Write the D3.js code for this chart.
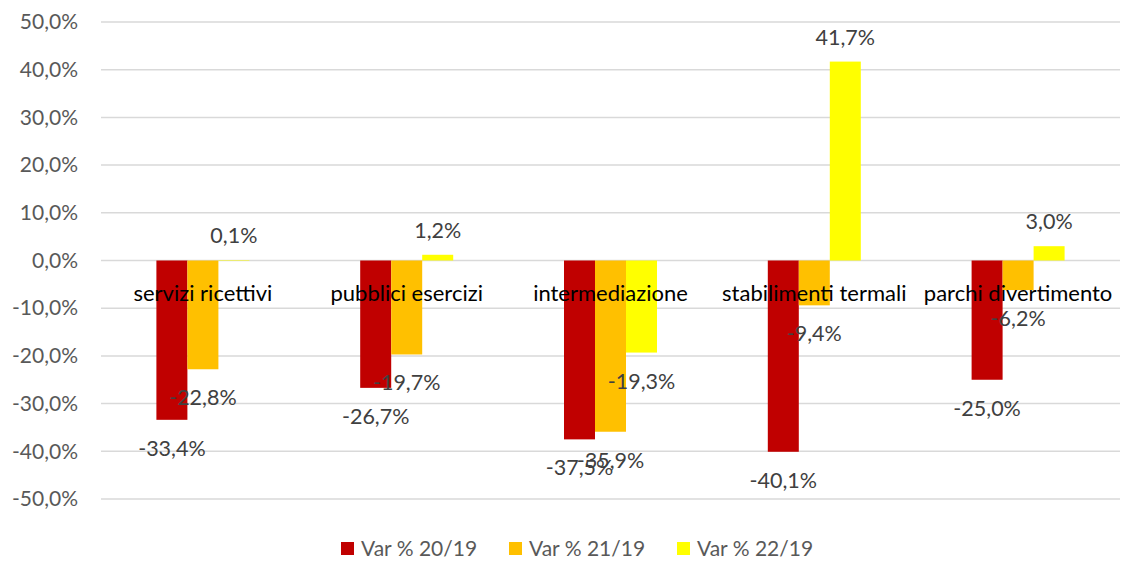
<!DOCTYPE html>
<html>
<head>
<meta charset="utf-8">
<script src="https://cdn.jsdelivr.net/npm/d3@7"></script>
<style>
  body { margin: 0; background: #fff; }
  svg { display: block; font-family: Lato, "Open Sans", sans-serif; }
</style>
</head>
<body>
<div id="chart"></div>
<script>
// chart data
const categories = ["servizi ricettivi", "pubblici esercizi", "intermediazione", "stabilimenti termali", "parchi divertimento"];
const seriesNames = ["Var % 20/19", "Var % 21/19", "Var % 22/19"];
const var2019 = [-33.4, -26.7, -37.5, -40.1, -25.0];
const var2119 = [-22.8, -19.7, -35.9, -9.4, -6.2];
const var2219 = [0.1, 1.2, -19.3, 41.7, 3.0];
const yTicks = [50, 40, 30, 20, 10, 0, -10, -20, -30, -40, -50];

const colors = ["#C00000", "#FFC000", "#FFFF00"];
const seriesValues = [var2019, var2119, var2219];

const W = 1122, H = 561;
const margin = {top: 22, right: 2, bottom: 62, left: 101};
const width = W - margin.left - margin.right,
      height = H - margin.top - margin.bottom;

const fmt = v => v.toFixed(1).replace(".", ",") + "%";

const svg = d3.select("#chart").append("svg")
  .attr("width", W).attr("height", H);

const g = svg.append("g")
  .attr("transform", `translate(${margin.left}, ${margin.top})`);

const x = d3.scaleBand().domain(categories).range([0, width]).paddingInner(0).paddingOuter(0);
const x1 = d3.scaleBand().domain(d3.range(3)).range([x.bandwidth() / 2 - 46.5, x.bandwidth() / 2 + 46.5]);
const y = d3.scaleLinear().domain([-50, 50]).range([height, 0]);

// gridlines
g.append("g")
  .selectAll("line")
  .data(yTicks)
  .join("line")
    .attr("x1", 0).attr("x2", width)
    .attr("y1", d => y(d)).attr("y2", d => y(d))
    .attr("stroke", "#D9D9D9")
    .attr("stroke-width", 1.5);

// y axis labels
const yAxis = g.append("g")
  .call(d3.axisLeft(y).tickValues(yTicks).tickFormat(fmt).tickSize(0).tickPadding(23));
yAxis.select(".domain").remove();
yAxis.selectAll("text")
  .style("font-size", "21px")
  .style("font-family", "Lato, sans-serif")
  .attr("fill", "#595959");

// bars
const groups = g.append("g")
  .selectAll("g")
  .data(categories)
  .join("g")
    .attr("transform", d => `translate(${x(d)},0)`);

const rows = categories.map((c, i) => seriesValues.map((s, k) => ({cat: c, k: k, v: s[i]})));

groups.selectAll("rect")
  .data((d, i) => rows[i])
  .join("rect")
    .attr("x", d => x1(d.k))
    .attr("width", x1.bandwidth())
    .attr("y", d => y(Math.max(0, d.v)))
    .attr("height", d => Math.abs(y(d.v) - y(0)))
    .attr("fill", d => colors[d.k]);

// category labels
g.append("g")
  .selectAll("text")
  .data(categories)
  .join("text")
    .attr("x", d => x(d) + x.bandwidth() / 2)
    .attr("y", y(0) + 40)
    .attr("text-anchor", "middle")
    .style("font-size", "22px")
    .attr("fill", "#000")
    .text(d => d);

// data labels
groups.selectAll("text.val")
  .data((d, i) => rows[i])
  .join("text")
    .attr("class", "val")
    .attr("x", d => x1(d.k) + x1.bandwidth() / 2)
    .attr("y", d => d.v >= 0 ? y(d.v) - 17 : y(d.v) + 36)
    .attr("text-anchor", "middle")
    .style("font-size", "21.5px")
    .attr("fill", "#404040")
    .text(d => fmt(d.v));

// legend
const legendX = [341, 509, 677];
const legend = svg.append("g")
  .selectAll("g")
  .data(seriesNames)
  .join("g")
    .attr("transform", (d, i) => `translate(${legendX[i]}, 542)`);
legend.append("rect")
  .attr("width", 13).attr("height", 13)
  .attr("fill", (d, i) => colors[i]);
legend.append("text")
  .attr("x", 20).attr("y", 14)
  .style("font-size", "21px")
  .attr("fill", "#595959")
  .text(d => d);
</script>
</body>
</html>
